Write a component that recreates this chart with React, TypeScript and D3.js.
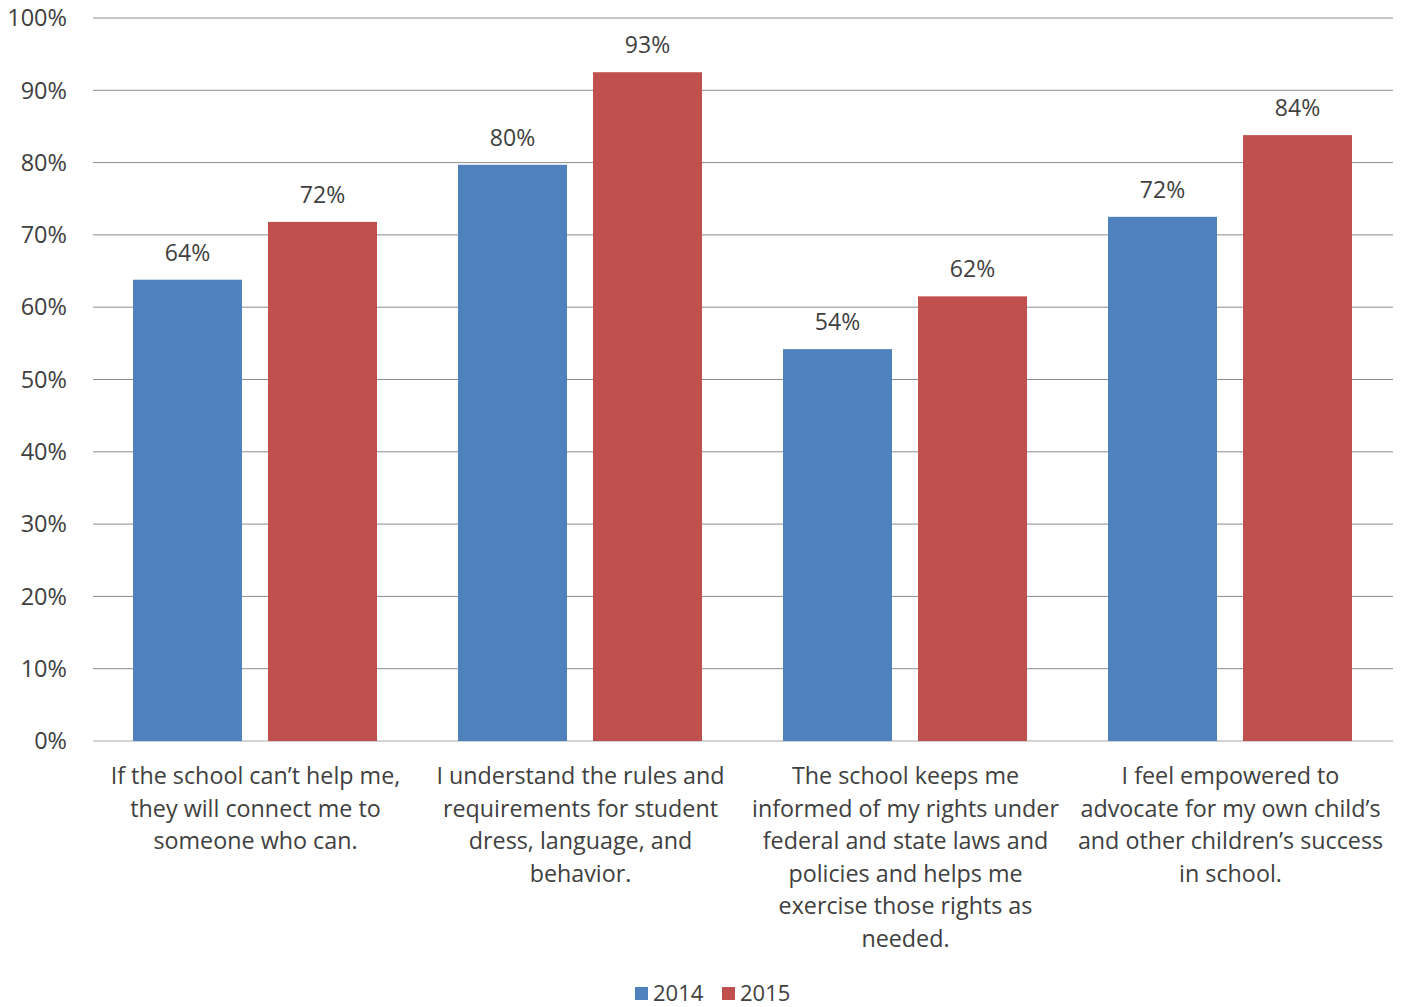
import React from "react";
import * as d3 from "d3";

const categories: string[][] = [
  ["If the school can\u2019t help me,", "they will connect me to", "someone who can."],
  ["I understand the rules and", "requirements for student", "dress, language, and", "behavior."],
  ["The school keeps me", "informed of my rights under", "federal and state laws and", "policies and helps me", "exercise those rights as", "needed."],
  ["I feel empowered to", "advocate for my own child\u2019s", "and other children\u2019s success", "in school."],
];
const series = ["2014", "2015"];
const values2014 = [0.638, 0.797, 0.542, 0.725];
const values2015 = [0.718, 0.925, 0.615, 0.838];
const labels2014 = ["64%", "80%", "54%", "72%"];
const labels2015 = ["72%", "93%", "62%", "84%"];
const yTicks = [0, 0.1, 0.2, 0.3, 0.4, 0.5, 0.6, 0.7, 0.8, 0.9, 1.0];
const colors = ["#4F81BD", "#C0504D"];

const W = 1403;
const H = 1007;
const left = 93;
const right = 1393;
const top = 18;
const bottom = 741;
const FONT = "'Open Sans', sans-serif";
const TEXT = "#404040";

export default function App() {
  const x0 = d3.scaleBand<number>().domain(d3.range(categories.length)).range([left, right]).paddingInner(0).paddingOuter(0);
  const x1 = d3.scaleBand<number>().domain([0, 1]).range([40, 284]).paddingInner(0.1926).paddingOuter(0);
  const y = d3.scaleLinear().domain([0, 1]).range([bottom, top]);
  const fmt = d3.format(".0%");
  const vals = [values2014, values2015];
  const labs = [labels2014, labels2015];

  return (
    <svg width={W} height={H} style={{ position: "absolute", left: 0, top: 0, background: "#fff" }} fontFamily={FONT}>
      {yTicks.map((t) => (
        <g key={t}>
          <line x1={left} x2={right} y1={y(t)} y2={y(t)} stroke={t === 0 ? "#A6A6A6" : "#8C8C8C"} strokeWidth={1} />
          <text x={67} y={y(t)} dy="0.35em" textAnchor="end" fontSize={23.5} fill={TEXT}>
            {fmt(t)}
          </text>
        </g>
      ))}
      {categories.map((c, i) => (
        <g key={i}>
          {vals.map((v, s) => {
            const bx = (x0(i) as number) + (x1(s) as number);
            return (
              <g key={s}>
                <rect x={bx} y={y(v[i])} width={x1.bandwidth()} height={bottom - y(v[i])} fill={colors[s]} />
                <text x={bx + x1.bandwidth() / 2} y={y(v[i]) - 19} textAnchor="middle" fontSize={23} fill={TEXT}>
                  {labs[s][i]}
                </text>
              </g>
            );
          })}
          {c.map((line, k) => (
            <text key={k} x={(x0(i) as number) + x0.bandwidth() / 2} y={784 + k * 32.5} textAnchor="middle" fontSize={23.3} fill={TEXT}>
              {line}
            </text>
          ))}
        </g>
      ))}
      {series.map((s, i) => {
        const lx = 635 + i * 87;
        return (
          <g key={s}>
            <rect x={lx} y={987} width={13} height={13} fill={colors[i]} />
            <text x={lx + 18} y={1001} fontSize={22} fill={TEXT}>
              {s}
            </text>
          </g>
        );
      })}
    </svg>
  );
}
